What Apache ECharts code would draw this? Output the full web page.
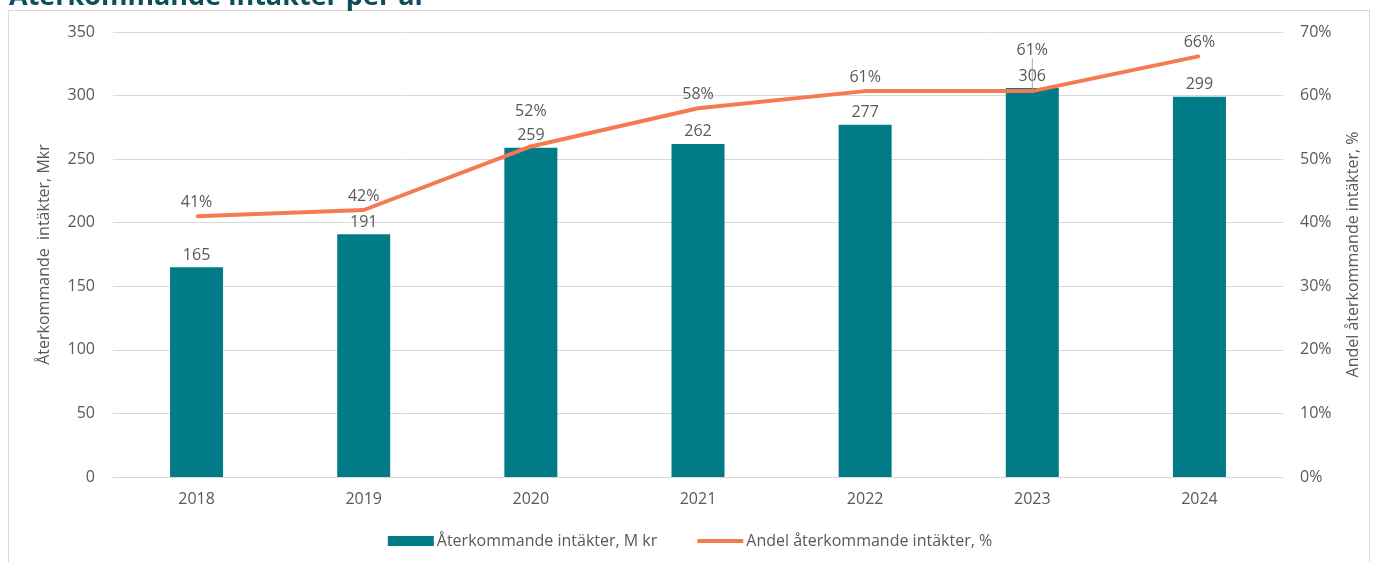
<!DOCTYPE html>
<html>
<head>
<meta charset="utf-8">
<script src="https://cdn.jsdelivr.net/npm/echarts@6/dist/echarts.min.js"></script>
<style>
html,body{margin:0;padding:0;background:#fff;overflow:hidden;}
#frame{position:absolute;left:8px;top:10px;width:1362px;height:600px;border:1px solid #d9d9d9;box-sizing:border-box;}
#c{position:absolute;left:0;top:0;width:1380px;height:562px;}
</style>
</head>
<body>
<div id="frame"></div>
<div id="c"></div>
<script>
const titleText = "Återkommande intäkter per år";
const categories = ["2018","2019","2020","2021","2022","2023","2024"];
const revenueMkr = [165, 191, 259, 262, 277, 306, 299];
const sharePct = [0.41, 0.42, 0.52, 0.58, 0.607, 0.607, 0.662];
const leftTicks = [0, 50, 100, 150, 200, 250, 300, 350];
const rightTicks = [0, 0.1, 0.2, 0.3, 0.4, 0.5, 0.6, 0.7];
const barName = "Återkommande intäkter, M kr";
const lineName = "Andel återkommande intäkter, %";
const leftAxisName = "Återkommande  intäkter, Mkr";
const rightAxisName = "Andel återkommande intäkter, %";

const txt = "#595959";
const font = "'Open Sans', 'Liberation Sans', sans-serif";
const chart = echarts.init(document.getElementById('c'));
const lineData = sharePct.map((v, i) => {
  if (i === 5) return {value: v, labelLine: {show: true}};
  return v;
});
chart.setOption({
  animation: false,
  textStyle: {fontFamily: font},
  title: {
    text: titleText, left: 4, top: -21,
    textStyle: {color: "#0c4f5b", fontSize: 27, fontWeight: "bold", fontFamily: "'Open Sans', sans-serif"}
  },
  legend: {
    bottom: 8, left: "center", itemGap: 40,
    textStyle: {color: txt, fontSize: 16, padding: [0, 0, 0, -2]},
    itemWidth: 46, itemHeight: 10,
    data: [
      {name: barName, icon: "rect"},
      {name: lineName, icon: "path://M0,3 L46,3 L46,7 L0,7 Z"}
    ]
  },
  grid: {left: 113, right: 97, top: 32, bottom: 85},
  xAxis: {
    type: "category", data: categories,
    axisLine: {lineStyle: {color: "#d9d9d9"}},
    axisTick: {show: false},
    axisLabel: {color: txt, fontSize: 16, margin: 14}
  },
  yAxis: [
    {
      type: "value", min: leftTicks[0], max: leftTicks[leftTicks.length-1], interval: 50,
      name: leftAxisName, nameLocation: "middle", nameGap: 61, nameRotate: 90,
      nameTextStyle: {color: txt, fontSize: 16},
      axisLabel: {color: txt, fontSize: 16, margin: 18},
      splitLine: {lineStyle: {color: "#d9d9d9"}},
      axisLine: {show: false}, axisTick: {show: false}
    },
    {
      type: "value", min: rightTicks[0], max: rightTicks[rightTicks.length-1], interval: 0.1,
      name: rightAxisName, nameLocation: "middle", nameGap: 62, nameRotate: 90,
      nameTextStyle: {color: txt, fontSize: 16},
      axisLabel: {color: txt, fontSize: 16, margin: 17, formatter: v => Math.round(v*100) + "%"},
      splitLine: {show: false},
      axisLine: {show: false}, axisTick: {show: false}
    }
  ],
  series: [
    {
      name: barName, type: "bar", data: revenueMkr, barWidth: 53,
      itemStyle: {color: "#007b87"},
      label: {show: true, position: "top", color: txt, fontSize: 16, distance: 4}
    },
    {
      name: lineName, type: "line", yAxisIndex: 1, data: lineData,
      symbol: "circle", symbolSize: 2, showSymbol: true,
      lineStyle: {color: "#f57a52", width: 4},
      itemStyle: {color: "#f57a52"},
      label: {show: true, position: "top", color: txt, fontSize: 16, distance: 5,
        formatter: p => Math.round(p.value*100) + "%"},
      labelLine: {show: false, lineStyle: {color: "#a6a6a6", width: 1}},
      labelLayout: p => (p.dataIndex === 5 ? {dy: -27} : (p.dataIndex === 2 ? {dy: -21} : {}))
    }
  ]
});
</script>
</body>
</html>
